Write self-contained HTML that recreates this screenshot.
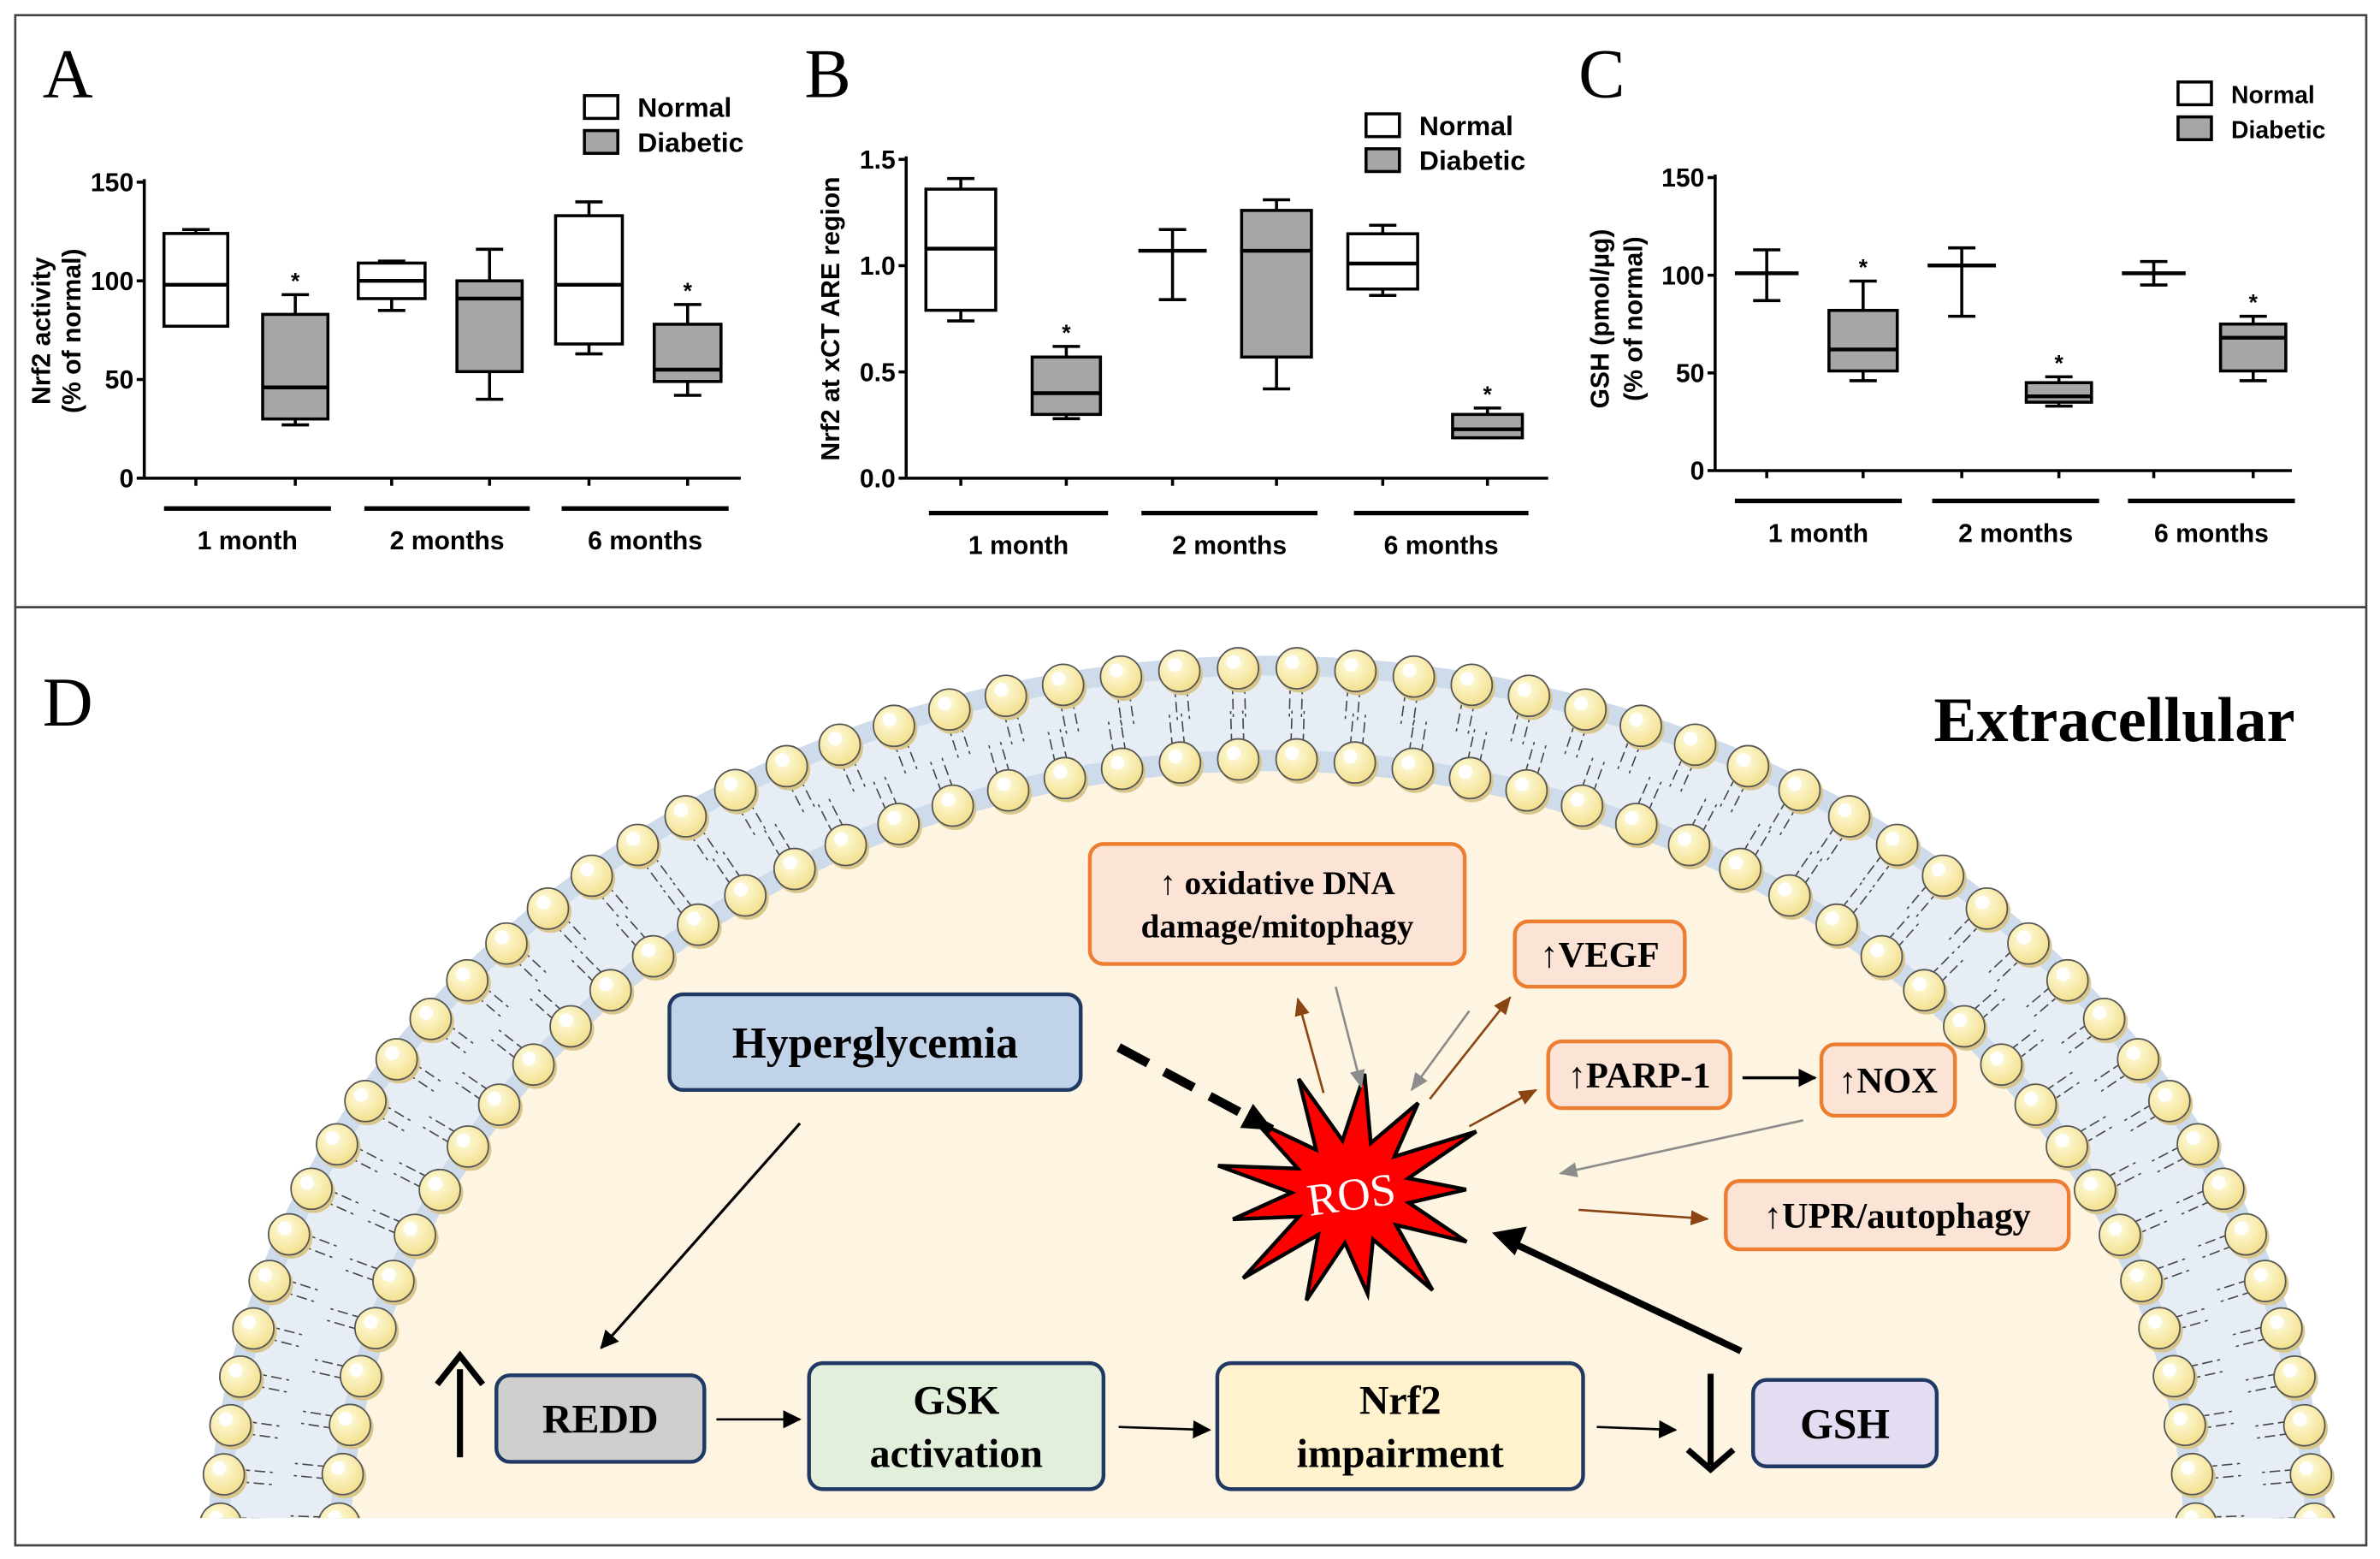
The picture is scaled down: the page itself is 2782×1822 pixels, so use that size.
<!DOCTYPE html>
<html><head><meta charset="utf-8"><style>
html,body{margin:0;padding:0;background:#fff;overflow:hidden;width:2782px;height:1822px}
svg{display:block}
.ax{font-family:"Liberation Sans",sans-serif;font-weight:bold;fill:#000}
.sf{font-family:"Liberation Serif",serif;font-weight:bold;fill:#000}
</style></head><body>
<svg id="s" width="2782" height="1822" viewBox="0 0 1568 1027" xmlns="http://www.w3.org/2000/svg">
<defs>
<marker id="mkb" markerWidth="12" markerHeight="12" refX="11" refY="6" orient="auto" markerUnits="userSpaceOnUse"><path d="M0,0 L12,6 L0,12z" fill="#000"/></marker>
<marker id="mkbr" markerWidth="12" markerHeight="10" refX="11" refY="5" orient="auto" markerUnits="userSpaceOnUse"><path d="M0,0 L12,5 L0,10z" fill="#8b4513"/></marker>
<marker id="mkg" markerWidth="12" markerHeight="10" refX="11" refY="5" orient="auto" markerUnits="userSpaceOnUse"><path d="M0,0 L12,5 L0,10z" fill="#8c8c8c"/></marker>
<marker id="mkd" markerWidth="20" markerHeight="18" refX="19" refY="9" orient="auto" markerUnits="userSpaceOnUse"><path d="M0,0 L20,9 L0,18z" fill="#000"/></marker>
<clipPath id="cp"><rect x="11" y="402" width="1548" height="598"/></clipPath>
<radialGradient id="hg" cx="0.4" cy="0.35" r="0.7"><stop offset="0" stop-color="#fffde0"/><stop offset="1" stop-color="#f2de8a"/></radialGradient>
</defs>
<rect x="10" y="10" width="1549" height="1008" fill="#fff" stroke="#444" stroke-width="1.5"/>
<line x1="10" y1="400" x2="1559" y2="400" stroke="#444" stroke-width="1.5"/>
<g id="charts"></g>
<g id="mem" clip-path="url(#cp)"></g>
<g id="diag"></g>
</svg>
<script>
const NS="http://www.w3.org/2000/svg";
function el(p,t,a,txt){const e=document.createElementNS(NS,t);for(const k in a)e.setAttribute(k,a[k]);if(txt!==undefined)e.textContent=txt;p.appendChild(e);return e;}
const C=document.getElementById('charts');
function chart(o){
 const g=C;
 el(g,'text',{x:o.lx,y:o.ly,'font-family':'Liberation Serif,serif','font-size':46},o.L);
 el(g,'line',{x1:o.ax,y1:o.y0,x2:o.ax,y2:o.y1,stroke:'#000','stroke-width':2});
 el(g,'line',{x1:o.ax,y1:o.y0,x2:o.xe,y2:o.y0,stroke:'#000','stroke-width':2});
 o.ticks.forEach(t=>{const y=o.y0-(t[0]-o.vmin)*o.k;el(g,'line',{x1:o.ax-5,y1:y,x2:o.ax,y2:y,stroke:'#000','stroke-width':2});
  el(g,'text',{x:o.ax-7,y:y+6,'text-anchor':'end','font-size':17,class:'ax'},t[1]);});
 const Y=v=>o.y0-(v-o.vmin)*o.k;
 o.boxes.forEach(b=>{const [x1,x2,wl,q1,med,q3,wh,star,fill]=b;const cx=(x1+x2)/2;
  el(g,'line',{x1:cx,y1:o.y0,x2:cx,y2:o.y0+5,stroke:'#000','stroke-width':2});
  el(g,'line',{x1:cx,y1:Y(wl),x2:cx,y2:Y(wh),stroke:'#000','stroke-width':2});
  el(g,'line',{x1:cx-9,y1:Y(wl),x2:cx+9,y2:Y(wl),stroke:'#000','stroke-width':2});
  el(g,'line',{x1:cx-9,y1:Y(wh),x2:cx+9,y2:Y(wh),stroke:'#000','stroke-width':2});
  if(q1!==null) el(g,'rect',{x:x1,y:Y(q3),width:x2-x1,height:Y(q1)-Y(q3),fill:fill?'#a6a6a6':'#fff',stroke:'#000','stroke-width':2});
  el(g,'line',{x1:x1,y1:Y(med),x2:x2,y2:Y(med),stroke:'#000','stroke-width':2.5});
  if(star) el(g,'text',{x:cx,y:Y(wh)-4,'text-anchor':'middle','font-size':15,class:'ax'},'*');
 });
 o.groups.forEach(gr=>{el(g,'line',{x1:gr[0],y1:o.gy,x2:gr[1],y2:o.gy,stroke:'#000','stroke-width':3});
  el(g,'text',{x:(gr[0]+gr[1])/2,y:o.gy+27,'text-anchor':'middle','font-size':17,class:'ax'},gr[2]);});
 el(g,'rect',{x:o.lg[0],y:o.lg[1],width:22,height:15,fill:'#fff',stroke:'#000','stroke-width':2});
 el(g,'rect',{x:o.lg[0],y:o.lg[1]+23,width:22,height:15,fill:'#a6a6a6',stroke:'#000','stroke-width':2});
 el(g,'text',{x:o.lg[0]+35,y:o.lg[1]+14,'font-size':o.lfs,class:'ax'},'Normal');
 el(g,'text',{x:o.lg[0]+35,y:o.lg[1]+37,'font-size':o.lfs,class:'ax'},'Diabetic');
 o.yl.forEach(l=>{el(g,'text',{x:0,y:0,'text-anchor':'middle','font-size':17,class:'ax',transform:`translate(${l[0]},${o.ylc}) rotate(-90)`},l[1]);});
}
chart({L:'A',lx:28,ly:64,ax:95,y0:315,y1:118,xe:488,vmin:0,k:1.3,ticks:[[0,'0'],[50,'50'],[100,'100'],[150,'150']],
 boxes:[[108,150,77,77,98,124,126,0,0],[173,216,27,30,46,83,93,1,1],[236,280,85,91,100,109,110,0,0],[301,344,40,54,91,100,116,0,1],[366,410,63,68,98,133,140,0,0],[431,475,42,49,55,78,88,1,1]],
 groups:[[108,218,'1 month'],[240,349,'2 months'],[370,480,'6 months']],gy:335,lg:[385,63],lfs:18,yl:[[33,'Nrf2 activity'],[53,'(% of normal)']],ylc:218});
chart({L:'B',lx:530,ly:64,ax:597,y0:315,y1:103,xe:1020,vmin:0,k:140,ticks:[[0,'0.0'],[0.5,'0.5'],[1,'1.0'],[1.5,'1.5']],
 boxes:[[610,656,0.74,0.79,1.08,1.36,1.41,0,0],[680,725,0.28,0.30,0.40,0.57,0.62,1,1],[750,795,0.84,null,1.07,null,1.17,0,0],[818,864,0.42,0.57,1.07,1.26,1.31,0,1],[888,934,0.86,0.89,1.01,1.15,1.19,0,0],[957,1003,0.19,0.19,0.23,0.30,0.33,1,1]],
 groups:[[612,730,'1 month'],[752,868,'2 months'],[892,1007,'6 months']],gy:338,lg:[900,75],lfs:18,yl:[[553,'Nrf2 at xCT ARE region']],ylc:210});
chart({L:'C',lx:1040,ly:64,ax:1130,y0:310,y1:115,xe:1510,vmin:0,k:1.287,ticks:[[0,'0'],[50,'50'],[100,'100'],[150,'150']],
 boxes:[[1143,1185,87,null,101,null,113,0,0],[1205,1250,46,51,62,82,97,1,1],[1270,1315,79,null,105,null,114,0,0],[1335,1378,33,35,38,45,48,1,1],[1398,1440,95,null,101,null,107,0,0],[1463,1506,46,51,68,75,79,1,1]],
 groups:[[1143,1253,'1 month'],[1273,1383,'2 months'],[1402,1512,'6 months']],gy:330,lg:[1435,54],lfs:16,yl:[[1060,'GSH (pmol/µg)'],[1082,'(% of normal)']],ylc:210});

// membrane
const M=document.getElementById('mem');
const cx=835,cy=1020;
el(M,'ellipse',{cx,cy,rx:698,ry:588,fill:'#cddbea'});
el(M,'ellipse',{cx,cy,rx:684,ry:575,fill:'#e6edf5'});
el(M,'ellipse',{cx,cy,rx:618,ry:526,fill:'#cddbea'});
el(M,'ellipse',{cx,cy,rx:604,ry:512,fill:'#fdf4e2'});
function tails(rx,ry,n,dir){
 for(let i=0;i<n;i++){const t=Math.PI*(i+0.5)/n;const x=cx-rx*Math.cos(t),y=cy-ry*Math.sin(t);
  const nx=-Math.cos(t)*dir,ny=-Math.sin(t)*dir;const L=32;
  for(const off of[-4,4]){const px=-ny*off,py=nx*off;
   el(M,'line',{x1:x+px,y1:y+py,x2:x+px-nx*L,y2:y+py-ny*L,stroke:'#444','stroke-width':0.9,'stroke-dasharray':'7,3'});}
 }}
function heads(rx,ry,n){
 for(let i=0;i<n;i++){const t=Math.PI*(i+0.5)/n;const x=cx-rx*Math.cos(t),y=cy-ry*Math.sin(t);
  el(M,'circle',{cx:x+1.5,cy:y+2,r:14,fill:'#d9c68a'});
  el(M,'circle',{cx:x,cy:y,r:13.5,fill:'url(#hg)',stroke:'#555','stroke-width':1});
  el(M,'circle',{cx:x-3,cy:y-4,r:4.5,fill:'#fff'});}
}
tails(690,580,56,1);tails(612,520,50,-1);
heads(690,580,56);heads(612,520,50);

// diagram
const D=document.getElementById('diag');
el(D,'text',{x:28,y:478,'font-family':'Liberation Serif,serif','font-size':46},'D');
el(D,'text',{x:1512,y:488,'text-anchor':'end','font-size':42,class:'sf'},'Extracellular');
function box(x,y,w,h,fill,st,lines,fs,sw){el(D,'rect',{x,y,width:w,height:h,rx:9,fill,stroke:st,'stroke-width':sw||2.5});
 const n=lines.length;lines.forEach((l,i)=>el(D,'text',{x:x+w/2,y:y+h/2+fs*0.35+(i-(n-1)/2)*fs*1.3,'text-anchor':'middle','font-size':fs,class:'sf'},l));}
const OF='#fbe4d6',OS='#ed7d31';
box(718,556,247,79,OF,OS,['↑ oxidative DNA','damage/mitophagy'],22);
box(998,607,112,43,OF,OS,['↑VEGF'],24);
box(1020,686,120,44,OF,OS,['↑PARP-1'],24);
box(1200,688,88,47,OF,OS,['↑NOX'],24);
box(1137,778,226,45,OF,OS,['↑UPR/autophagy'],24);
box(441,655,271,63,'#c0d3e8','#1f3864',['Hyperglycemia'],29);
box(327,906,137,57,'#cfcfcf','#1f3864',['REDD'],27);
box(533,898,194,83,'#e2efda','#1f3864',['GSK','activation'],27);
box(802,898,241,83,'#fff2cc','#1f3864',['Nrf2','impairment'],27);
box(1155,909,121,57,'#e4dcf0','#1f3864',['GSH'],28);
// ROS star
let pts=[];const N=13,scx=890,scy=785;
const rr=[78,70,82,66,74,80,68,76,84,70,78,72,80];
for(let i=0;i<N*2;i++){const a=-Math.PI/2+Math.PI*i/N+0.1;const r=i%2?34:rr[i/2|0];pts.push((scx+r*Math.cos(a)*1.15).toFixed(1)+','+(scy+r*Math.sin(a)).toFixed(1));}
el(D,'polygon',{points:pts.join(' '),fill:'#ff0000',stroke:'#000','stroke-width':2.5,'stroke-linejoin':'miter'});
el(D,'text',{x:890,y:797,'text-anchor':'middle','font-size':30,'font-family':'Liberation Serif,serif',fill:'#fff',transform:'rotate(-8 890 785)'},'ROS');
function ar(x1,y1,x2,y2,c,w,m,dash){const a={x1,y1,x2,y2,stroke:c,'stroke-width':w,'marker-end':`url(#${m})`};if(dash)a['stroke-dasharray']=dash;el(D,'line',a);}
ar(737,690,838,744,'#000',6,'mkd','22,12');
ar(527,740,396,888,'#000',1.8,'mkb');
ar(472,935,527,935,'#000',1.5,'mkb');
ar(737,940,797,942,'#000',1.5,'mkb');
ar(1052,940,1104,942,'#000',1.5,'mkb');
ar(1148,710,1196,710,'#000',2,'mkb');
el(D,'line',{x1:1147,y1:890,x2:995,y2:818,stroke:'#000','stroke-width':4.5});
el(D,'path',{d:'M983,812 L1006,808 L998,827z',fill:'#000'});
ar(872,720,855,658,'#8b4513',1.5,'mkbr');
ar(942,724,995,657,'#8b4513',1.5,'mkbr');
ar(968,742,1012,718,'#8b4513',1.5,'mkbr');
ar(1040,797,1125,803,'#8b4513',1.5,'mkbr');
ar(880,650,897,716,'#8c8c8c',1.5,'mkg');
ar(968,666,930,718,'#8c8c8c',1.5,'mkg');
ar(1188,738,1028,773,'#8c8c8c',1.5,'mkg');
el(D,'line',{x1:303,y1:960,x2:303,y2:902,stroke:'#000','stroke-width':4});
el(D,'path',{d:'M288,912 L303,893 L318,912',fill:'none',stroke:'#000','stroke-width':4});
el(D,'line',{x1:1127,y1:905,x2:1127,y2:965,stroke:'#000','stroke-width':4});
el(D,'path',{d:'M1112,955 L1127,968 L1142,955',fill:'none',stroke:'#000','stroke-width':4});
</script>
</body></html>
